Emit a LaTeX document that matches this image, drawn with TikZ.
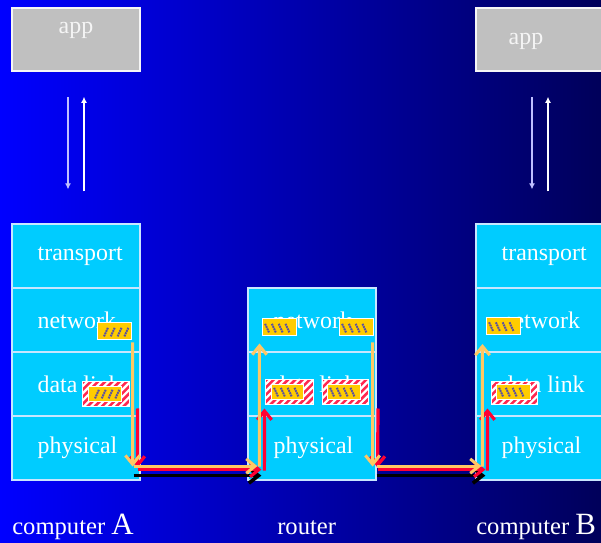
\documentclass[tikz,border=0pt]{standalone}
\usepackage{fontspec}
\setmainfont{Liberation Serif}
\usetikzlibrary{arrows.meta}
\usetikzlibrary{calc}
\definecolor{bgleft}{RGB}{0,0,255}
\definecolor{bgmid}{RGB}{0,0,195}
\definecolor{bgright}{RGB}{0,0,90}
\definecolor{layercyan}{RGB}{0,204,255}
\definecolor{layerline}{RGB}{200,230,255}
\definecolor{appgray}{RGB}{192,192,192}
\definecolor{pktyellow}{RGB}{255,204,0}
\definecolor{pkthatch}{RGB}{90,80,160}
\definecolor{stripered}{RGB}{255,40,80}
\definecolor{flowred}{RGB}{255,0,51}
\definecolor{floworange}{RGB}{255,200,100}
\tikzset{layer/.style = {rectangle, fill=layercyan, draw=layerline, line width=0.03cm,
                         minimum width=3.2cm, minimum height=1.6cm, inner sep=0}}
\tikzset{lbl/.style = {anchor=west, xshift=0.65cm, inner sep=0, text=white,
                       font=\fontsize{17}{20}\selectfont}}
\tikzset{appbox/.style = {rectangle, fill=appgray, draw=white!85!appgray, line width=0.04cm,
                          minimum width=3.2cm, minimum height=1.575cm, inner sep=0}}
\tikzset{apptext/.style = {anchor=base, inner sep=0, text=white!92!gray,
                           font=\fontsize{17}{20}\selectfont}}
\tikzset{tag/.style = {anchor=base west, inner sep=0, text=white,
                       font=\fontsize{17.5}{20}\selectfont}}
\tikzset{pktline/.style = {draw=pkthatch, line width=0.05cm, dash pattern=on 1.3pt off 0.5pt}}
\tikzset{pkt/.style = {rectangle, fill=pktyellow, draw=white, line width=0.025cm,
                       minimum width=0.825cm, minimum height=0.425cm, inner sep=0,
                       path picture={\foreach \i in {0,...,3} {
                         \draw [pktline] ([xshift=0.15cm+\i*0.17cm, yshift=0.09cm]path picture bounding box.south west)
                           -- ++(#1*0.1cm, 0.22cm);}}}}
\tikzset{stripebox/.style = {rectangle, fill=white, draw=white, line width=0.025cm,
                             minimum width=1.15cm, minimum height=0.625cm, inner sep=0,
                             path picture={\foreach \i in {0,...,12} {
                               \draw [stripered, line width=0.065cm] ([xshift=\i*0.18cm-0.8cm]path picture bounding box.south west)
                                 -- ++(0.8cm, 0.8cm);}}}}
\tikzset{appdown/.style = {draw=white!75!blue, line width=0.035cm, -{Latex[length=0.15cm, width=0.15cm]}}}
\tikzset{appup/.style = {draw=white, line width=0.035cm, -{Latex[length=0.15cm, width=0.15cm]}}}
\tikzset{oflow/.style = {draw=floworange, line width=0.075cm, -{Straight Barb[length=0.22cm, width=0.36cm]}}}
\tikzset{rflow/.style = {draw=flowred, line width=0.08cm, -{Straight Barb[length=0.22cm, width=0.36cm]}}}
\tikzset{kflow/.style = {draw=black, line width=0.09cm, -{Straight Barb[length=0.24cm, width=0.38cm]}}}

\begin{document}
\begin{tikzpicture}[x=0.025cm, y=-0.025cm]
  \useasboundingbox (0,0) rectangle (601,543);
  \shade [left color=bgleft, middle color=bgmid, right color=bgright] (0,0) rectangle (601,543);

  % computer A
  \node [appbox] (appA) at (76,39.5) {};
  \node [apptext] (appAt) at (76,34) {app};
  \node [layer, label={[lbl]west:transport}] (trA) at (76,256) {};
  \node [layer, label={[lbl]west:network}] (nwA) at (76,320) {};
  \node [layer, label={[lbl]west:data link}] (dlA) at (76,384) {};
  \node [layer, label={[lbl]west:physical}] (phA) at (76,448) {};

  % router
  \node [layer, label={[lbl]west:network}] (nwR) at (312,320) {};
  \node [layer, label={[lbl]west:data link}] (dlR) at (312,384) {};
  \node [layer, label={[lbl]west:physical}] (phR) at (312,448) {};

  % computer B
  \node [appbox] (appB) at (540,39.5) {};
  \node [apptext] (appBt) at (526,45) {app};
  \node [layer, label={[lbl]west:transport}] (trB) at (540,256) {};
  \node [layer, label={[lbl]west:network}] (nwB) at (540,320) {};
  \node [layer, label={[lbl]west:data link}] (dlB) at (540,384) {};
  \node [layer, label={[lbl]west:physical}] (phB) at (540,448) {};

  % packets
  \node [pkt=1] (pkA) at (114.5,331.5) {};
  \node [stripebox, minimum width=1.15cm] (fmA) at (106,394.5) {};
  \node [pkt=1, minimum width=0.8cm, minimum height=0.375cm] (pkA2) at (105,394.5) {};
  \node [pkt=-1] (pkR1) at (279.5,327.5) {};
  \node [pkt=-1] (pkR2) at (356.5,327.5) {};
  \node [stripebox, minimum width=1.175cm] (fmR1) at (289.5,392.5) {};
  \node [pkt=-1, minimum width=0.775cm, minimum height=0.375cm] (pkR3) at (287.5,392.5) {};
  \node [stripebox, minimum width=1.15cm] (fmR2) at (345.5,392.5) {};
  \node [pkt=-1, minimum width=0.8cm, minimum height=0.375cm] (pkR4) at (344,392.5) {};
  \node [pkt=-1] (pkB) at (503.5,326) {};
  \node [stripebox, minimum width=1.125cm, minimum height=0.575cm] (fmB) at (514.5,393.5) {};
  \node [pkt=-1, minimum width=0.825cm, minimum height=0.375cm] (pkB2) at (513.5,392.5) {};

  % app <-> transport
  \draw [appdown] ($(appA.south)+(-8,25)$) -- ($(trA.north)+(-8,-34)$);
  \draw [appup] ($(trA.north)+(8,-32)$) -- ($(appA.south)+(8,25)$);
  \draw [appdown] ($(appB.south)+(-8,25)$) -- ($(trB.north)+(-8,-34)$);
  \draw [appup] ($(trB.north)+(8,-32)$) -- ($(appB.south)+(8,25)$);

  % down in A
  \draw [rflow] ($(fmA.south east)+(8,1)$) -- ($(phA.south east)+(-3,-13)$);
  \draw [oflow] ($(pkA.south east)+(1,2)$) -- ($(phA.south east)+(-8,-14)$);

  % A -> router
  \draw [kflow] ($(phA.south east)+(-7,-5)$) -- ($(phR.south west)+(14,-5)$);
  \draw [rflow] ($(phA.south east)+(-3,-11)$) -- ($(phR.south west)+(14,-11)$);
  \draw [oflow] ($(phA.south east)+(-7,-14.5)$) -- ($(phR.south west)+(10,-14.5)$);

  % up in router
  \draw [rflow] ($(phR.south west)+(17,-10)$) -- ($(fmR1.south west)+(-1,3)$);
  \draw [oflow] ($(phR.south west)+(12,-14)$) -- ($(pkR1.south west)+(-3,7)$);

  % down in router
  \draw [rflow] ($(fmR2.south east)+(9,3)$) -- ($(phR.south east)+(1,-13)$);
  \draw [oflow] ($(pkR2.south east)+(-1,6)$) -- ($(phR.south east)+(-4,-14)$);

  % router -> B
  \draw [kflow] ($(phR.south east)+(0,-5)$) -- ($(phB.south west)+(10,-5)$);
  \draw [rflow] ($(phR.south east)+(1,-11)$) -- ($(phB.south west)+(10,-11)$);
  \draw [oflow] ($(phR.south east)+(0,-14.5)$) -- ($(phB.south west)+(6,-14.5)$);

  % up in B
  \draw [rflow] ($(phB.south west)+(12,-10)$) -- ($(fmB.south west)+(-4,3)$);
  \draw [oflow] ($(phB.south west)+(7,-14)$) -- ($(pkB.south west)+(-4,9)$);

  % captions
  \node [tag] (capA) at (12,535) {computer {\fontsize{22}{24}\selectfont A}};
  \node [tag] (capR) at (277,535) {router};
  \node [tag] (capB) at (476,535) {computer {\fontsize{22}{24}\selectfont B}};
\end{tikzpicture}
\end{document}
